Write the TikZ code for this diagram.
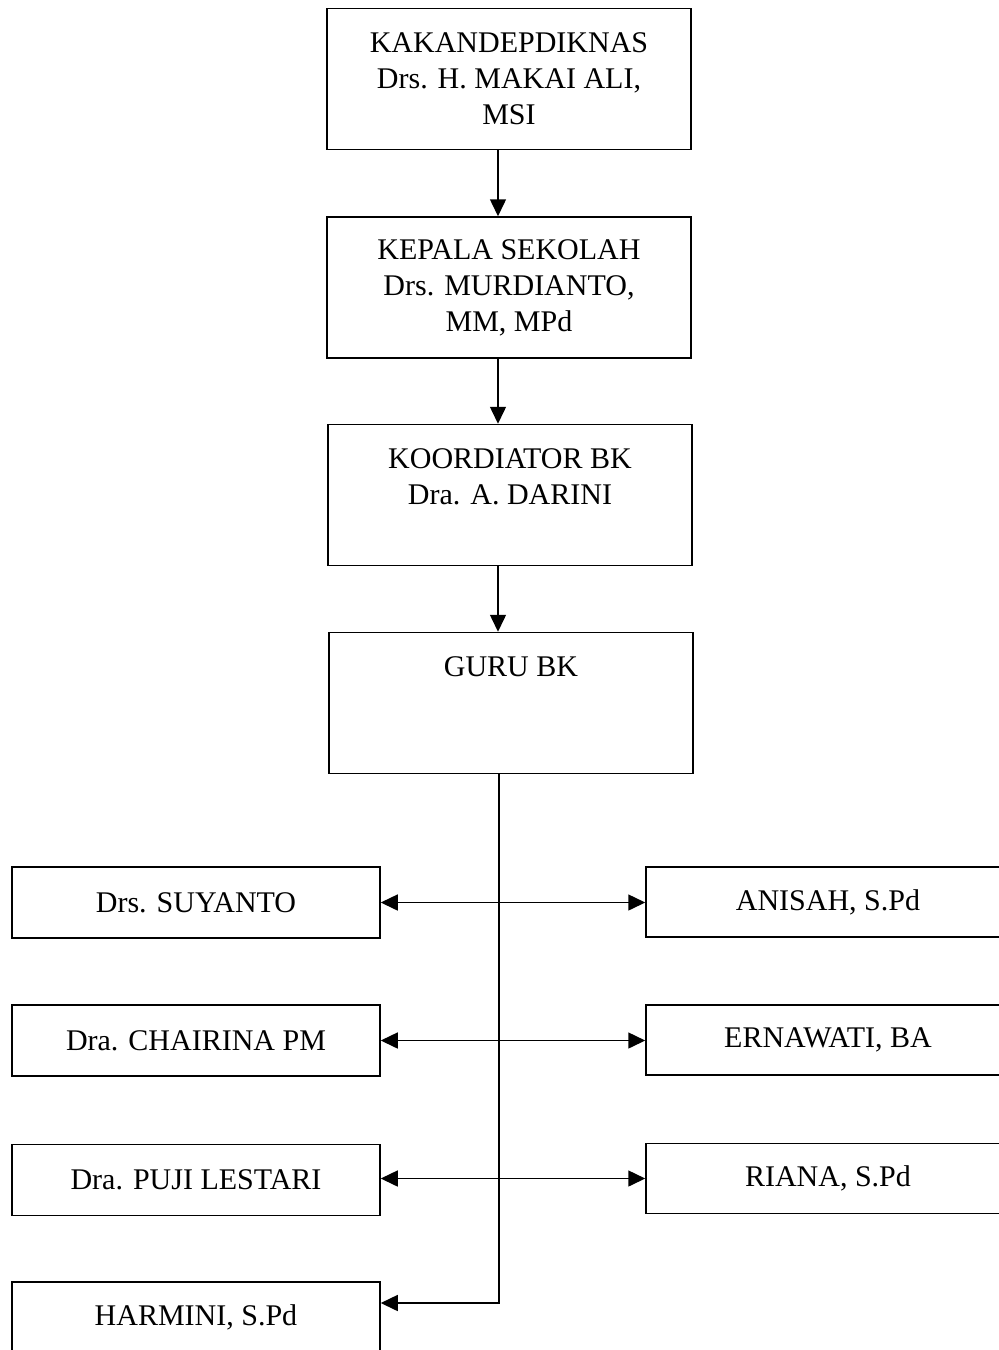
\documentclass[tikz,border=0pt]{standalone}
\usepackage{fontspec}
\setmainfont{Liberation Serif}
\usetikzlibrary{arrows.meta}
\usetikzlibrary{positioning}

\begin{document}
\begin{tikzpicture}[%
x={(1pt,0pt)},
y={(0pt,-1pt)},
font=\fontsize{30}{36}\selectfont,
kotak/.style={draw, line width=1.5pt, align=center, inner sep=0pt},
atas/.style={kotak, minimum width=364pt, minimum height=141pt},
kiri/.style={kotak, minimum width=368pt, minimum height=71pt},
kanan/.style={kotak, minimum width=364pt, minimum height=70pt},
panah/.style={line width=1.5pt, arrows={-Triangle[length=17pt,width=16pt]}},
panahdua/.style={line width=1.5pt, arrows={Triangle[length=17pt,width=16pt]-Triangle[length=17pt,width=16pt]}},
]
\useasboundingbox (0,0) rectangle (999,1350);

%Kotak atas
\node[atas] (kakan) at (509,79) {KAKANDEPDIKNAS\\Drs. H. MAKAI ALI,\\MSI};
\node[atas] (kepsek) at (509,287.5) {KEPALA SEKOLAH\\Drs. MURDIANTO,\\MM, MPd};
\node[atas] (koord) at (510,495) {KOORDIATOR BK\\Dra. A. DARINI\\~};
\node[atas] (gurubk) at (511,703) {GURU BK\\~\\~};

%Guru kiri
\node[kiri] (suyanto) at (196,902.5) {Drs. SUYANTO};
\node[kiri] (chairina) at (196,1040.5) {Dra. CHAIRINA PM};
\node[kiri] (puji) at (196,1180) {Dra. PUJI LESTARI};
\node[kiri] (harmini) at (196,1317.5) {HARMINI, S.Pd};

%Guru kanan
\node[kanan] (anisah) at (828,902) {ANISAH, S.Pd};
\node[kanan] (ernawati) at (828,1040) {ERNAWATI, BA};
\node[kanan] (riana) at (828,1178.5) {RIANA, S.Pd};

%Panah
\draw[panah] ([xshift=-11pt]kakan.south) -- ([xshift=-11pt]kepsek.north);
\draw[panah] ([xshift=-11pt]kepsek.south) -- ([xshift=-11pt]kepsek.south |- koord.north);
\draw[panah] ([xshift=-12pt]koord.south) -- ([xshift=-12pt]koord.south |- gurubk.north);

\coordinate (belok) at (499,1303);
\draw[panah] (gurubk.south -| belok) -- (belok) -- (belok -| harmini.east);

\draw[panahdua] (suyanto.east) -- (suyanto.east -| anisah.west);
\draw[panahdua] (chairina.east) -- (chairina.east -| ernawati.west);
\draw[panahdua] (puji.east |- riana.west) -- (riana.west);

\end{tikzpicture}
\end{document}
